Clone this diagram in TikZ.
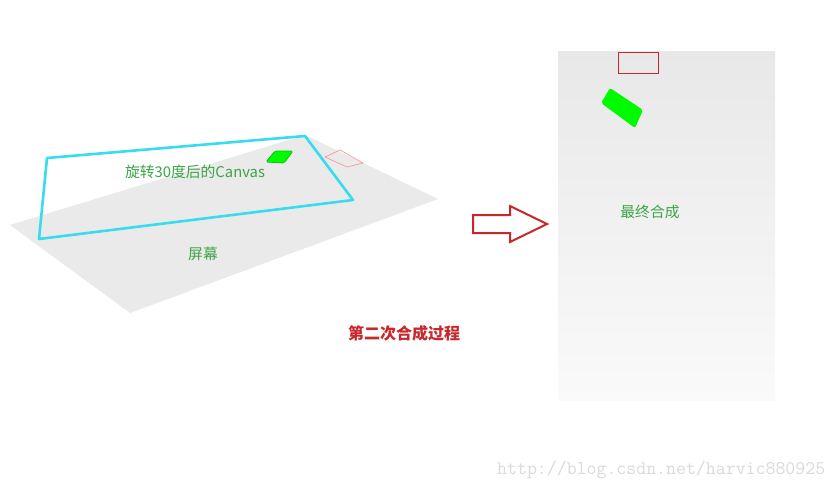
\documentclass[tikz,border=0pt]{standalone}
\usepackage{fontspec}
\newfontfamily\cjk{Noto Sans CJK SC}
\usetikzlibrary{shapes.geometric}
\definecolor{screengray}{RGB}{234,234,234}
\definecolor{canvascyan}{RGB}{55,220,238}
\definecolor{lbl}{RGB}{60,165,70}
\definecolor{redline}{RGB}{200,40,45}
\definecolor{lgreen}{RGB}{0,250,0}
\definecolor{wm}{RGB}{218,218,218}
\tikzset{
  lbltext/.style={text=lbl,font=\cjk\fontsize{14.8}{17}\selectfont,inner sep=0pt},
  greenpatch/.style={fill=lgreen,draw=lgreen!80!black,line width=0.8pt,rounded corners=1.5pt,line join=round},
}
\begin{document}
\begin{tikzpicture}[x=1pt,y=-1pt]
\useasboundingbox (0,0) rectangle (837,491);
\fill[white] (0,0) rectangle (837,491);
% screen
\fill[screengray] (10,225) -- (305,135) -- (438,199) -- (130,313) -- cycle;
% faint red rectangle on screen
\draw[red!45,line width=0.6pt] (325,157) -- (340,150) -- (363,163) -- (347,167) -- cycle;
% rotated canvas outline
\draw[canvascyan,line width=2.6pt,line join=round] (47,158) -- (305,136) -- (353,200) -- (39,239) -- cycle;
% green patch on canvas
\draw[greenpatch,fill=lgreen] (266,162) -- (275,151) -- (293,151) -- (284,163) -- cycle;
\node[lbltext] (canvaslbl) at (195,172) {旋转30度后的Canvas};
\node[lbltext] (screenlbl) at (203,254) {屏幕};
% arrow
\draw[redline,line width=2pt,line join=miter] (473,215) -- (510,215) -- (510,206) -- (547,224) -- (510,242) -- (510,233) -- (473,233) -- cycle;
\node[text=redline,font=\cjk\bfseries\fontsize{16}{18}\selectfont,inner sep=0pt] (title) at (404,333) {第二次合成过程};
% final composition
\shade[top color=black!9,bottom color=black!2] (558,51) rectangle (775,400);
\draw[redline,line width=1pt] (618,52) rectangle (658,73);
\fill[lgreen,rounded corners=2pt] (610,88) -- (643,110) -- (635,128) -- (601,103) -- cycle;
\node[lbltext] (finallbl) at (650,212) {最终合成};
% watermark
\node[text=wm,font=\ttfamily\fontsize{19.3}{21}\selectfont,inner sep=0pt,anchor=west] (wmark) at (497,470) {http://blog.csdn.net/harvic880925};
\end{tikzpicture}
\end{document}
